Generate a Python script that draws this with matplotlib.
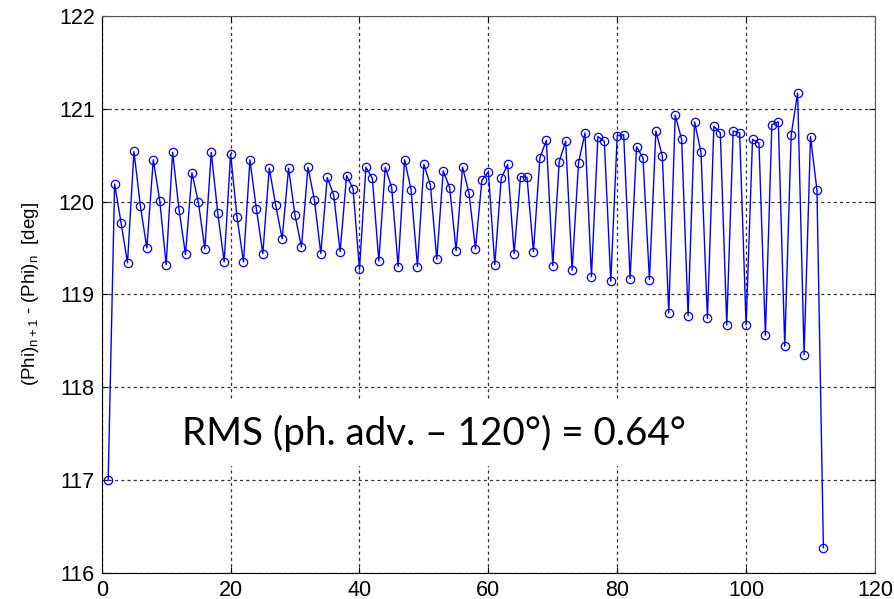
import matplotlib
matplotlib.use("Agg")
import matplotlib.pyplot as plt

# phase advance between consecutive cells, n = 1..112
cell_index = list(range(1, 113))
phase_advance = [
    117.00, 120.19, 119.77, 119.34, 120.54, 119.95, 119.50, 120.45, 120.01, 119.32,
    120.53, 119.91, 119.43, 120.31, 119.99, 119.49, 120.53, 119.88, 119.35, 120.51,
    119.83, 119.35, 120.45, 119.92, 119.44, 120.36, 119.96, 119.60, 120.36, 119.85,
    119.51, 120.37, 120.02, 119.44, 120.26, 120.07, 119.46, 120.28, 120.14, 119.27,
    120.37, 120.25, 119.36, 120.37, 120.15, 119.30, 120.45, 120.13, 119.30, 120.40,
    120.18, 119.38, 120.33, 120.15, 119.47, 120.37, 120.09, 119.49, 120.23, 120.32,
    119.32, 120.25, 120.40, 119.44, 120.27, 120.26, 119.46, 120.47, 120.66, 119.31,
    120.43, 120.65, 119.26, 120.42, 120.74, 119.19, 120.70, 120.65, 119.14, 120.71,
    120.72, 119.17, 120.59, 120.47, 119.16, 120.76, 120.49, 118.80, 120.93, 120.67,
    118.77, 120.86, 120.53, 118.74, 120.81, 120.74, 118.67, 120.76, 120.74, 118.67,
    120.67, 120.63, 118.56, 120.83, 120.86, 118.44, 120.72, 121.17, 118.35, 120.70,
    120.12, 116.27,
]
rms_text = "RMS (ph. adv. \u2013 120\u00b0) = 0.64\u00b0"

plt.rcParams["font.family"] = ["Liberation Sans", "DejaVu Sans"]
plt.rcParams["mathtext.fontset"] = "custom"
plt.rcParams["mathtext.rm"] = "Liberation Sans"
plt.rcParams["mathtext.it"] = "Liberation Sans"

fig = plt.figure(figsize=(8.94, 5.99), dpi=100)
ax = fig.add_axes([0.1138, 0.0439, 0.8649, 0.9294])

ax.plot(cell_index, phase_advance, color="#0000ff", linewidth=1.0,
        marker="o", markersize=6, markerfacecolor="none",
        markeredgecolor="#0000ff", markeredgewidth=0.9, zorder=4)

ax.set_xlim(0, 120)
ax.set_ylim(116, 122)
ax.set_xticks(range(0, 121, 20))
ax.set_yticks(range(116, 123))
ax.tick_params(direction="in", length=4, labelsize=15.5, top=True, right=True,
               pad=5)
ax.grid(True, color="#333333", linestyle=(0, (2.5, 2.5)), linewidth=0.9)

for side in ("left", "bottom"):
    ax.spines[side].set_color("black")
for side in ("top", "right"):
    ax.spines[side].set_color("#555555")

ax.set_ylabel(r"(Phi)$_{\mathrm{n+1}}$ - (Phi)$_{\mathrm{n}}$  [deg]", fontsize=13.5)
ax.yaxis.set_label_coords(-0.078, 0.5)

ax.text(0.429, 0.229, rms_text, transform=ax.transAxes, ha="center",
        va="baseline", fontsize=27.8, family=["Lato", "DejaVu Sans"],
        bbox=dict(facecolor="white", edgecolor="none", pad=10), zorder=3)

fig.savefig("out.png", dpi=100)
